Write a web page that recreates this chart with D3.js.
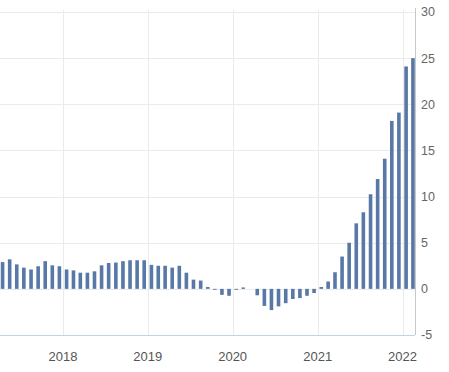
<!DOCTYPE html>
<meta charset="utf-8">
<style>
body { margin: 0; background: #fff; }
text { font-family: Arial, "Liberation Sans", sans-serif; }
</style>
<svg width="449" height="372"></svg>
<script src="https://d3js.org/d3.v7.min.js"></script>
<script>

// monthly values, Apr 2017 .. Feb 2022
var startMonth = "2017-04";
var values = [
  2.9, 3.2, 2.65, 2.3, 2.1, 2.45, 3.0, 2.55, 2.45,
  2.1, 2.0, 1.75, 1.75, 1.9, 2.55, 2.8, 2.85, 3.0, 3.1, 3.1, 3.1,
  2.6, 2.5, 2.5, 2.3, 2.5, 1.75, 1.0, 0.9, 0.2, -0.1, -0.65, -0.75,
  -0.1, 0.15, 0, -0.7, -1.85, -2.3, -1.9, -1.55, -1.1, -1.0, -0.75, -0.45,
  0.2, 0.8, 1.8, 3.5, 5.0, 7.1, 8.3, 10.25, 11.9, 14.1, 18.2, 19.1,
  24.1, 25.0
];
var yTicks = [-5, 0, 5, 10, 15, 20, 25, 30];
var xYears = [2018, 2019, 2020, 2021, 2022];

var parse = d3.timeParse("%Y-%m");
var months = values.map(function(v, i) { return d3.timeMonth.offset(parse(startMonth), i); });

var svg = d3.select("svg"),
    axisX = 415,
    plotTop = 12,
    plotBottom = 335;

var x = d3.scaleTime()
    .domain([new Date(2018, 0, 1), new Date(2022, 0, 1)])
    .range([63, 402.5]);

var y = d3.scaleLinear()
    .domain([-5, 30])
    .range([plotBottom, plotTop]);

// grid
svg.append("g").selectAll("line")
  .data(yTicks.filter(function(t) { return t > -5; }))
  .enter().append("line")
    .attr("x1", 0).attr("x2", axisX)
    .attr("y1", function(d) { return Math.round(y(d)) + 0.5; })
    .attr("y2", function(d) { return Math.round(y(d)) + 0.5; })
    .attr("stroke", "#ebebeb");

svg.append("g").selectAll("line")
  .data(xYears)
  .enter().append("line")
    .attr("x1", function(d) { return Math.round(x(new Date(d, 0, 1))) + 0.5; })
    .attr("x2", function(d) { return Math.round(x(new Date(d, 0, 1))) + 0.5; })
    .attr("y1", plotTop - 2).attr("y2", plotBottom)
    .attr("stroke", "#ebebeb");

// bars
var bw = 3.6;
svg.append("g").selectAll("rect")
  .data(values)
  .enter().append("rect")
    .attr("x", function(d, i) {
      var a = x(months[i]), b = x(d3.timeMonth.offset(months[i], 1));
      return (a + b) / 2 - bw / 2;
    })
    .attr("y", function(d) { return y(Math.max(0, d)); })
    .attr("width", bw)
    .attr("height", function(d) { return Math.abs(y(d) - y(0)); })
    .attr("fill", "#5878a6");

// bottom axis line
svg.append("line")
    .attr("x1", 0).attr("x2", axisX)
    .attr("y1", plotBottom + 0.5).attr("y2", plotBottom + 0.5)
    .attr("stroke", "#c3d2e6");

// right axis line
svg.append("line")
    .attr("x1", axisX + 0.5).attr("x2", axisX + 0.5)
    .attr("y1", plotTop - 4).attr("y2", plotBottom)
    .attr("stroke", "#c8c8c8");

// y labels
svg.append("g").selectAll("text")
  .data(yTicks)
  .enter().append("text")
    .attr("x", 421)
    .attr("y", function(d) { return y(d); })
    .attr("dy", "0.35em")
    .attr("font-size", 12.5)
    .attr("fill", "#666")
    .text(function(d) { return d; });

// x labels
svg.append("g").selectAll("text")
  .data(xYears)
  .enter().append("text")
    .attr("x", function(d) { return x(new Date(d, 0, 1)); })
    .attr("y", 360.5)
    .attr("text-anchor", "middle")
    .attr("font-size", 13)
    .attr("fill", "#555")
    .text(function(d) { return d; });

</script>
